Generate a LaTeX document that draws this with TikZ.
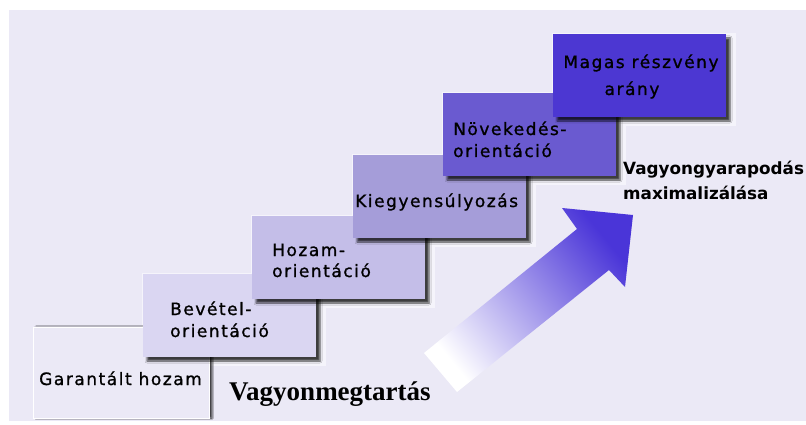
\documentclass[tikz,border=0pt]{standalone}
\usepackage{fontspec}
\usetikzlibrary{shadows.blur}
\newfontfamily\stepfont[LetterSpace=9,FakeBold=1.1]{DejaVu Sans}
\newfontfamily\goalfont{DejaVu Sans}
\newfontfamily\titlefont{Liberation Serif}
\definecolor{bg}{RGB}{235,233,246}
\definecolor{halo}{RGB}{245,244,251}
\definecolor{stepA}{RGB}{218,214,242}
\definecolor{stepB}{RGB}{196,190,232}
\definecolor{stepC}{RGB}{165,157,217}
\definecolor{stepD}{RGB}{106,90,208}
\definecolor{stepE}{RGB}{76,55,210}
\definecolor{arrowc}{RGB}{74,53,216}
\tikzset{
  stepbox/.style={rectangle, draw=none, inner sep=0pt, outer sep=0pt,
    minimum width=173pt, minimum height=83pt,
    blur shadow={shadow xshift=4pt, shadow yshift=-4pt, shadow blur radius=2pt, shadow opacity=75}},
  steptext/.style={inner sep=0pt, anchor=base west, text=black, font=\stepfont\fontsize{17}{20}\selectfont},
  goaltext/.style={inner sep=0pt, anchor=base west, text=black, font=\goalfont\bfseries\fontsize{16.8}{20}\selectfont},
}
\begin{document}
\begin{tikzpicture}[x=1pt,y=-1pt]
\useasboundingbox (0,0) rectangle (806,425);
\fill[white] (0,0) rectangle (806,425);
\fill[bg] (9,10) rectangle (806,421);
% halos
\foreach \a/\b in {143/274, 252/216, 353/155, 443/93, 553/34}
  \fill[halo] (\a-1,\b-1) rectangle (\a+183,\b+92);
% bottom step
\node[rectangle, draw=white, line width=1pt, fill=bg, inner sep=0pt, minimum width=176pt, minimum height=91pt,
  blur shadow={shadow xshift=3pt, shadow yshift=0pt, shadow blur radius=1.5pt, shadow opacity=75}] (b0) at (121,372.5) {};
% arrow
\shade[top color=arrowc, bottom color=white, shading angle=-51]
  (424,353) -- (577,229) -- (562,208) -- (633,215) -- (625,287) -- (609,270) -- (457,392) -- cycle;
% steps
\node[stepbox, fill=stepA] (bA) at (229.5,315.5) {};
\node[stepbox, fill=stepB] (bB) at (338.5,257.5) {};
\node[stepbox, fill=stepC] (bC) at (439.5,196.5) {};
\node[stepbox, fill=stepD] (bD) at (529.5,134.5) {};
\node[stepbox, fill=stepE] (bE) at (639.5,75.5) {};
% texts
\node[steptext] (t0) at (39,385) {Garantált hozam};
\node[steptext] (tA1) at (170,315) {Bevétel-};
\node[steptext] (tA2) at (170,337) {orientáció};
\node[steptext] (tB1) at (272,256) {Hozam-};
\node[steptext] (tB2) at (272,277) {orientáció};
\node[steptext] (tC1) at (355,207) {Kiegyensúlyozás};
\node[steptext] (tD1) at (453,135) {Növekedés-};
\node[steptext] (tD2) at (453,157) {orientáció};
\node[steptext, anchor=base] (tE1) at (641,68) {Magas részvény};
\node[steptext, anchor=base] (tE2) at (632,95) {arány};
\node[goaltext] (g1) at (623,175) {Vagyongyarapodás};
\node[goaltext] (g2) at (623,200) {maximalizálása};
\node[inner sep=0pt, anchor=base west, font=\titlefont\bfseries\fontsize{27}{31}\selectfont] (g0) at (229,400) {Vagyonmegtartás};
\end{tikzpicture}
\end{document}
